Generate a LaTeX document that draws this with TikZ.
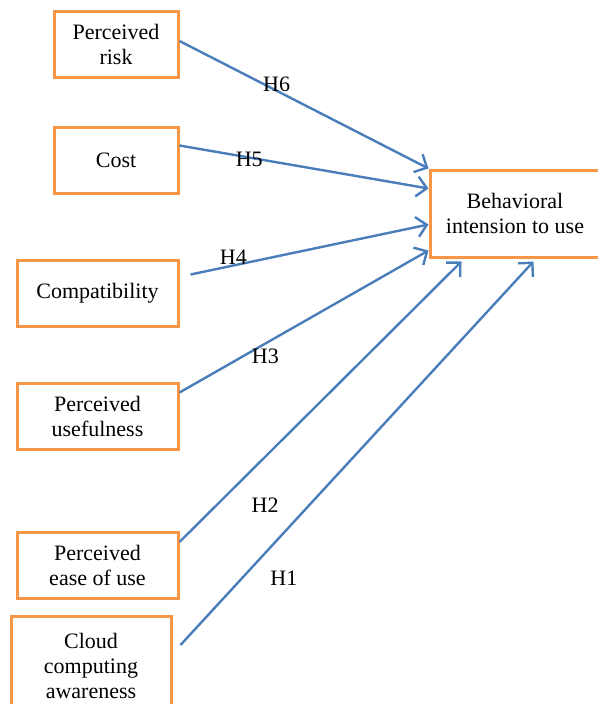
\documentclass[tikz,border=0pt]{standalone}
\usepackage{fontspec}
\setmainfont{Liberation Serif}
\usepackage{xcolor}
\usetikzlibrary{arrows.meta, positioning}
\definecolor{boxorange}{HTML}{F79646}
\definecolor{linkblue}{HTML}{4A7EBB}
\tikzset{
  factor/.style={draw=boxorange, line width=3pt, rectangle, align=center, inner sep=0pt,
    font=\fontsize{22}{25}\selectfont},
  link/.style={draw=linkblue, line width=2.4pt, -{Straight Barb[length=10pt,width=20pt]}},
  hyp/.style={font=\fontsize{22}{25}\selectfont, inner sep=0pt}
}

\begin{document}
\begin{tikzpicture}[x=1pt, y=-1pt]
\useasboundingbox (0,0) rectangle (597,704);
\node[factor, minimum width=124pt, minimum height=66pt] (risk) at (116,44) {Perceived\\risk};
\node[factor, minimum width=124pt, minimum height=66pt] (cost) at (116,160.5) {Cost};
\node[factor, minimum width=161pt, minimum height=66pt] (compat) at (97.5,293.5) {Compatibility};
\node[factor, minimum width=161pt, minimum height=66pt] (useful) at (97.5,416.5) {Perceived\\usefulness};
\node[factor, minimum width=161pt, minimum height=66pt] (ease) at (97.5,565) {Perceived\\ease of use};
\node[factor, minimum width=160pt, minimum height=100pt] (aware) at (91,666) {Cloud\\computing\\awareness};
\node[factor, minimum width=170pt, minimum height=87pt] (intent) at (515,213.5) {Behavioral\\intension to use};

% hypotheses
\draw[link] ([yshift=3pt]risk.east) -- node[hyp, pos=0.39, yshift=6pt] {H6} (intent.north west);
\draw[link] ([yshift=15pt]cost.east) -- node[hyp, pos=0.28, yshift=-2pt] {H5} ([yshift=-20pt]intent.north west);
\draw[link] ([shift={(11pt,19pt)}]compat.east) -- node[hyp, pos=0.18, yshift=8pt] {H4} ([yshift=-56pt]intent.north west);
\draw[link] ([yshift=24pt]useful.east) -- node[hyp, pos=0.345, yshift=-13pt] {H3} ([yshift=8pt]intent.south west);
\draw[link] ([yshift=23pt]ease.east) -- node[hyp, pos=0.13, xshift=49pt] {H2} ([shift={(33pt,-3pt)}]intent.south west);
\draw[link] ([shift={(8pt,21pt)}]aware.east) -- node[hyp, pos=0.174, xshift=42pt] {H1} ([shift={(105pt,-3pt)}]intent.south west);
\end{tikzpicture}
\end{document}
